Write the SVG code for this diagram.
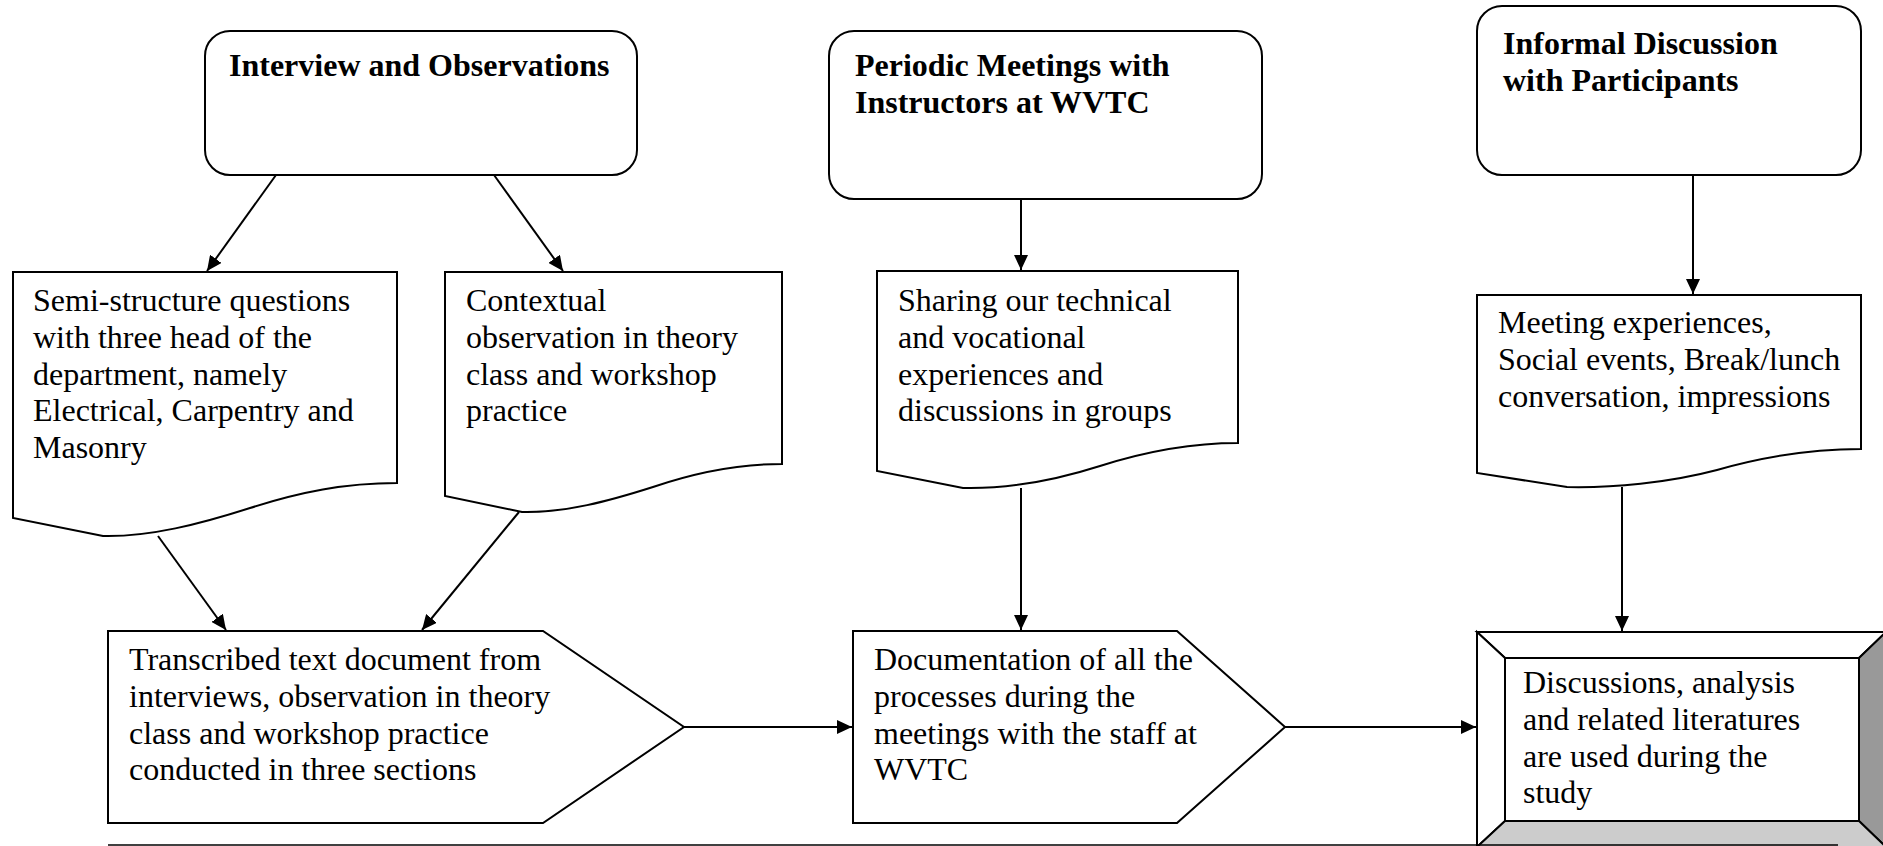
<svg xmlns="http://www.w3.org/2000/svg" width="1883" height="846" viewBox="0 0 1883 846">
<style>
.shape{fill:#fff;stroke:#000;stroke-width:2}
.t{font-family:'Liberation Serif',serif;font-size:32px;fill:#000}
.b{font-weight:bold}
.conn{stroke:#000;stroke-width:2;fill:none;marker-end:url(#ah)}
</style>
<defs>
<marker id="ah" markerUnits="userSpaceOnUse" markerWidth="16" markerHeight="14" refX="15" refY="7" orient="auto">
<path d="M0,0 L15,7 L0,14 Z" fill="#000"/>
</marker>
</defs>
<rect width="1883" height="846" fill="#fff"/>

<g id="interview">
<rect class="shape" x="205" y="31" width="432" height="144" rx="25" ry="25"/>
<text class="t b" x="229" y="76">Interview and Observations</text>
</g>

<g id="periodic">
<rect class="shape" x="829" y="31" width="433" height="168" rx="25" ry="25"/>
<text class="t b" x="855" y="76">Periodic Meetings with</text>
<text class="t b" x="855" y="113">Instructors at WVTC</text>
</g>

<g id="informal">
<rect class="shape" x="1477" y="6" width="384" height="169" rx="25" ry="25"/>
<text class="t b" x="1503" y="54">Informal Discussion</text>
<text class="t b" x="1503" y="91">with Participants</text>
</g>

<g id="semi">
<path class="shape" d="M13,272 H397 V483 C345,483 300,492 250,508 C200,524 150,537 103,536 L13,518 Z"/>
<text class="t" x="33" y="311">Semi-structure questions</text>
<text class="t" x="33" y="348">with three head of the</text>
<text class="t" x="33" y="385">department, namely</text>
<text class="t" x="33" y="421">Electrical, Carpentry and</text>
<text class="t" x="33" y="458">Masonry</text>
</g>

<g id="contextual">
<path class="shape" d="M445,272 H782 V464 C737,464 697,472 653,487 C609,501 565,513 522,512 L445,496 Z"/>
<text class="t" x="466" y="311">Contextual</text>
<text class="t" x="466" y="348">observation in theory</text>
<text class="t" x="466" y="385">class and workshop</text>
<text class="t" x="466" y="421">practice</text>
</g>

<g id="sharing">
<path class="shape" d="M877,271 H1238 V443 C1190,443 1147,451 1100,466 C1053,481 1006,489 963,488 L877,471 Z"/>
<text class="t" x="898" y="311">Sharing our technical</text>
<text class="t" x="898" y="348">and vocational</text>
<text class="t" x="898" y="385">experiences and</text>
<text class="t" x="898" y="421">discussions in groups</text>
</g>

<g id="meeting">
<path class="shape" d="M1477,295 H1861 V449 C1811,449 1766,456 1717,470 C1668,483 1612,488 1567,487 L1477,473 Z"/>
<text class="t" x="1498" y="333">Meeting experiences,</text>
<text class="t" x="1498" y="370">Social events, Break/lunch</text>
<text class="t" x="1498" y="407">conversation, impressions</text>
</g>

<g id="transcribed">
<path class="shape" d="M108,631 H543 L684,727 L543,823 H108 Z"/>
<text class="t" x="129" y="670">Transcribed text document from</text>
<text class="t" x="129" y="707">interviews, observation in theory</text>
<text class="t" x="129" y="744">class and workshop practice</text>
<text class="t" x="129" y="780">conducted in three sections</text>
</g>

<g id="documentation">
<path class="shape" d="M853,631 H1177 L1285,727 L1177,823 H853 Z"/>
<text class="t" x="874" y="670">Documentation of all the</text>
<text class="t" x="874" y="707">processes during the</text>
<text class="t" x="874" y="744">meetings with the staff at</text>
<text class="t" x="874" y="780">WVTC</text>
</g>

<g id="discussions">
<polygon points="1477,632 1886,632 1859,658 1505,658" fill="#fff" stroke="#000" stroke-width="2"/>
<polygon points="1477,632 1505,658 1505,821 1477,847" fill="#fff" stroke="#000" stroke-width="2"/>
<polygon points="1886,632 1886,847 1859,821 1859,658" fill="#999" stroke="#000" stroke-width="2"/>
<polygon points="1477,847 1505,821 1859,821 1886,847" fill="#ccc" stroke="#000" stroke-width="2"/>
<rect x="1505" y="658" width="354" height="163" fill="#fff" stroke="#000" stroke-width="2"/>
<text class="t" x="1523" y="693">Discussions, analysis</text>
<text class="t" x="1523" y="730">and related literatures</text>
<text class="t" x="1523" y="767">are used during the</text>
<text class="t" x="1523" y="803">study</text>
</g>

<g id="connectors">
<line class="conn" x1="276" y1="175" x2="207" y2="271"/>
<line class="conn" x1="494" y1="175" x2="563" y2="271"/>
<line class="conn" x1="158" y1="536" x2="226" y2="630"/>
<line class="conn" x1="519" y1="512" x2="422" y2="630"/>
<line class="conn" x1="1021" y1="199" x2="1021" y2="270"/>
<line class="conn" x1="1021" y1="488" x2="1021" y2="630"/>
<line class="conn" x1="1693" y1="175" x2="1693" y2="294"/>
<line class="conn" x1="1622" y1="487" x2="1622" y2="631"/>
<line class="conn" x1="684" y1="727" x2="852" y2="727"/>
<line class="conn" x1="1285" y1="727" x2="1476" y2="727"/>
</g>

<line x1="108" y1="845" x2="1838" y2="845" stroke="#000" stroke-width="1.5"/>
</svg>
